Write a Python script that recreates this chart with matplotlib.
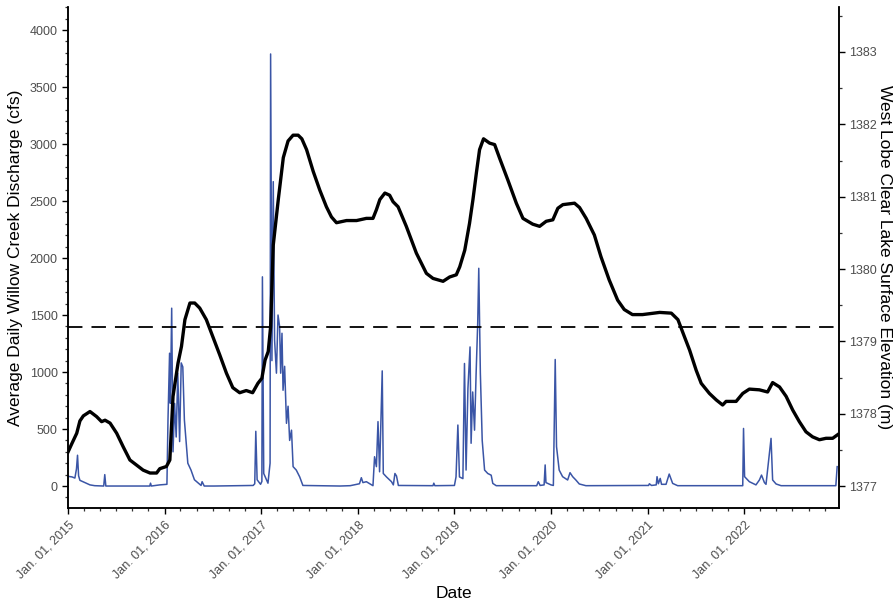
import matplotlib
matplotlib.use("Agg")
import matplotlib.pyplot as plt
import matplotlib.dates as mdates
from matplotlib.ticker import MultipleLocator
import pandas as pd

plt.rcParams['font.family'] = ['Liberation Sans', 'DejaVu Sans']

# lake surface elevation (m)
lake_dates = [
    "2015-01-01", "2015-01-16", "2015-02-03", "2015-02-15", "2015-02-28", "2015-03-25",
    "2015-04-19", "2015-05-08", "2015-05-21", "2015-06-09", "2015-07-04", "2015-07-29",
    "2015-08-23", "2015-09-17", "2015-10-12", "2015-11-07", "2015-12-02", "2015-12-14",
    "2016-01-08", "2016-01-21", "2016-02-02", "2016-02-21", "2016-03-05", "2016-03-18",
    "2016-04-06", "2016-04-24", "2016-05-13", "2016-06-07", "2016-07-03", "2016-07-28",
    "2016-08-22", "2016-09-15", "2016-10-11", "2016-11-05", "2016-11-29", "2016-12-19",
    "2017-01-03", "2017-01-15", "2017-01-27", "2017-02-05", "2017-02-15", "2017-03-06",
    "2017-03-25", "2017-04-12", "2017-05-01", "2017-05-20", "2017-06-03", "2017-06-21",
    "2017-07-16", "2017-08-10", "2017-09-04", "2017-09-23", "2017-10-12", "2017-11-19",
    "2017-12-27", "2018-02-02", "2018-02-27", "2018-03-12", "2018-03-25", "2018-04-13",
    "2018-05-01", "2018-05-14", "2018-06-02", "2018-07-03", "2018-08-10", "2018-09-17",
    "2018-10-12", "2018-11-19", "2018-12-14", "2019-01-08", "2019-01-21", "2019-02-09",
    "2019-02-27", "2019-03-12", "2019-03-25", "2019-04-06", "2019-04-21", "2019-05-14",
    "2019-06-02", "2019-06-21", "2019-07-22", "2019-08-23", "2019-09-17", "2019-10-24",
    "2019-11-19", "2019-12-14", "2020-01-08", "2020-01-27", "2020-02-15", "2020-03-30",
    "2020-04-18", "2020-05-13", "2020-06-13", "2020-07-08", "2020-08-08", "2020-09-09",
    "2020-10-04", "2020-11-04", "2020-12-12", "2021-02-15", "2021-03-31", "2021-04-25",
    "2021-05-20", "2021-06-08", "2021-07-03", "2021-07-22", "2021-08-22", "2021-09-17",
    "2021-10-11", "2021-10-24", "2021-12-01", "2021-12-26", "2022-01-20", "2022-02-27",
    "2022-03-30", "2022-04-18", "2022-05-14", "2022-06-08", "2022-07-03", "2022-07-28",
    "2022-08-22", "2022-09-16", "2022-10-12", "2022-11-06", "2022-12-01", "2022-12-20",
]
lake_elev = [
    1377.47, 1377.59, 1377.73, 1377.90, 1377.97, 1378.03,
    1377.96, 1377.89, 1377.91, 1377.87, 1377.73, 1377.54,
    1377.36, 1377.29, 1377.22, 1377.18, 1377.18, 1377.24,
    1377.27, 1377.36, 1378.24, 1378.70, 1378.93, 1379.30,
    1379.53, 1379.53, 1379.46, 1379.30, 1379.05, 1378.81,
    1378.56, 1378.36, 1378.29, 1378.32, 1378.29, 1378.42,
    1378.49, 1378.74, 1378.86, 1379.20, 1380.33, 1380.96,
    1381.54, 1381.77, 1381.85, 1381.85, 1381.80, 1381.65,
    1381.35, 1381.09, 1380.86, 1380.72, 1380.64, 1380.67,
    1380.67, 1380.70, 1380.70, 1380.82, 1380.96, 1381.05,
    1381.02, 1380.93, 1380.86, 1380.59, 1380.22, 1379.94,
    1379.87, 1379.83, 1379.89, 1379.92, 1380.03, 1380.26,
    1380.63, 1380.96, 1381.33, 1381.65, 1381.80, 1381.74,
    1381.72, 1381.53, 1381.23, 1380.91, 1380.70, 1380.62,
    1380.59, 1380.66, 1380.68, 1380.84, 1380.89, 1380.91,
    1380.85, 1380.70, 1380.47, 1380.17, 1379.85, 1379.57,
    1379.44, 1379.37, 1379.37, 1379.40, 1379.39, 1379.30,
    1379.06, 1378.88, 1378.60, 1378.42, 1378.28, 1378.19,
    1378.12, 1378.17, 1378.17, 1378.28, 1378.34, 1378.33,
    1378.30, 1378.43, 1378.37, 1378.24, 1378.05, 1377.89,
    1377.75, 1377.68, 1377.64, 1377.66, 1377.66, 1377.71,
]

# Willow Creek daily discharge (cfs)
flow_dates = [
    "2015-01-01", "2015-01-16", "2015-01-27", "2015-02-02", "2015-02-06", "2015-02-10",
    "2015-02-15", "2015-03-06", "2015-03-25", "2015-04-12", "2015-05-16", "2015-05-20",
    "2015-05-24", "2015-11-06", "2015-11-09", "2015-11-12", "2015-12-14",
    "2016-01-10", "2016-01-14", "2016-01-20", "2016-01-23", "2016-01-28", "2016-02-02",
    "2016-02-08", "2016-02-14", "2016-02-20", "2016-02-27", "2016-03-04", "2016-03-10",
    "2016-03-16", "2016-03-29", "2016-04-10", "2016-04-23", "2016-05-18", "2016-05-22",
    "2016-05-30", "2016-07-07",
    "2016-12-01", "2016-12-07", "2016-12-11", "2016-12-16", "2016-12-29",
    "2017-01-03", "2017-01-05", "2017-01-10", "2017-01-26", "2017-02-03", "2017-02-05",
    "2017-02-10", "2017-02-15", "2017-02-20", "2017-02-27", "2017-03-05", "2017-03-11",
    "2017-03-15", "2017-03-20", "2017-03-24", "2017-03-30", "2017-04-06", "2017-04-12",
    "2017-04-18", "2017-04-25", "2017-05-01", "2017-05-13", "2017-05-26", "2017-06-07",
    "2017-10-25",
    "2017-12-03", "2018-01-07", "2018-01-14", "2018-01-20", "2018-02-02", "2018-02-27",
    "2018-03-05", "2018-03-12", "2018-03-18", "2018-03-24", "2018-04-03", "2018-04-07",
    "2018-04-19", "2018-05-08", "2018-05-15", "2018-05-21", "2018-05-27", "2018-06-03",
    "2018-10-12", "2018-10-15", "2018-10-19", "2018-12-28",
    "2019-01-01", "2019-01-07", "2019-01-14", "2019-01-20", "2019-02-02", "2019-02-08",
    "2019-02-14", "2019-02-21", "2019-03-01", "2019-03-05", "2019-03-11", "2019-03-18",
    "2019-03-24", "2019-03-30", "2019-04-03", "2019-04-09", "2019-04-16", "2019-04-25",
    "2019-05-07", "2019-05-20", "2019-05-26", "2019-06-08", "2019-11-08",
    "2019-11-14", "2019-11-21", "2019-12-06", "2019-12-10", "2019-12-13",
    "2020-01-01", "2020-01-10", "2020-01-17", "2020-01-22", "2020-02-01", "2020-02-14",
    "2020-03-04", "2020-03-13", "2020-03-23", "2020-04-04", "2020-04-17", "2020-05-12",
    "2021-01-04", "2021-01-07", "2021-01-15", "2021-02-02", "2021-02-05", "2021-02-10",
    "2021-02-17", "2021-02-22", "2021-03-11", "2021-03-23", "2021-04-05", "2021-04-24",
    "2021-12-26", "2021-12-29", "2022-01-02", "2022-01-20", "2022-02-14", "2022-02-27",
    "2022-03-07", "2022-03-18", "2022-03-24", "2022-04-12", "2022-04-18", "2022-05-01",
    "2022-05-20", "2022-12-13", "2022-12-18",
]
flow_cfs = [
    85, 80, 70, 150, 270, 90,
    50, 30, 10, 3, 0, 100,
    0, 0, 25, 0, 10,
    15, 580, 1165, 725, 1560, 300,
    725, 430, 990, 390, 1080, 1045,
    580, 200, 140, 55, 5, 38,
    0, 0,
    5, 20, 480, 55, 15,
    40, 1835, 110, 25, 200, 3790,
    1100, 2670, 1280, 990, 1500, 1400,
    990, 1340, 840, 1050, 550, 700,
    400, 490, 170, 140, 80, 5,
    0,
    3, 20, 73, 30, 38, 3,
    257, 170, 565, 125, 1010, 110,
    80, 38, 10, 110, 88, 5,
    3, 25, 3, 5,
    5, 80, 535, 80, 65, 1075,
    140, 855, 1220, 375, 825, 490,
    990, 1430, 1910, 990, 400, 140,
    110, 95, 23, 3, 3,
    38, 5, 10, 185, 30,
    10, 5, 1110, 345, 140, 82,
    53, 117, 82, 53, 18, 3,
    5, 20, 5, 10, 82, 20,
    67, 15, 15, 105, 23, 3,
    3, 505, 82, 38, 10, 53,
    96, 30, 15, 418, 53, 18,
    3, 3, 170,
]

threshold_elev = 1379.2

lake_dates = pd.to_datetime(lake_dates)
flow_dates = pd.to_datetime(flow_dates)

fig = plt.figure(figsize=(8.96, 6.09), dpi=100)
ax = fig.add_axes([0.0759, 0.1658, 0.8605, 0.8227])
ax2 = ax.twinx()

# discharge on the left axis
ax.plot(flow_dates, flow_cfs, color="#3a55a6", lw=1.1, zorder=2)
ax.set_ylim(-193, 4202)
ax.set_xlim(pd.Timestamp("2015-01-01"), pd.Timestamp("2022-12-25"))

# lake elevation on the right axis
ax2.plot(lake_dates, lake_elev, color="black", lw=2.4, zorder=3)
ax2.axhline(threshold_elev, color="black", lw=1.3, dashes=(8, 5))
ax2.set_ylim(1376.696, 1383.622)

ax.yaxis.set_major_locator(MultipleLocator(500))
ax.yaxis.set_minor_locator(MultipleLocator(100))
ax2.yaxis.set_major_locator(MultipleLocator(1))
ax2.yaxis.set_minor_locator(MultipleLocator(0.5))

ax.xaxis.set_major_locator(mdates.YearLocator())
ax.xaxis.set_minor_locator(mdates.MonthLocator(bymonth=[1, 3, 5, 7, 9, 11]))
ax.xaxis.set_major_formatter(mdates.DateFormatter("%b. %d, %Y"))
for lab in ax.get_xticklabels():
    lab.set_rotation(45)
    lab.set_ha("right")
    lab.set_rotation_mode("anchor")

for a in (ax, ax2):
    a.spines["top"].set_visible(False)
    for s in a.spines.values():
        s.set_linewidth(1.1)
    a.tick_params(which="major", length=4, width=1, color="black",
                  labelsize=9, labelcolor="#4d4d4d")
    a.tick_params(which="minor", length=2.5, width=0.9, color="#333333")

ax.set_xlabel("Date", fontsize=12.5, labelpad=4)
ax.set_ylabel("Average Daily Willow Creek Discharge (cfs)", fontsize=12.5, labelpad=5)
ax2.set_ylabel("West Lobe Clear Lake Surface Elevation (m)", fontsize=12.5,
               rotation=-90, va="center", ha="center")
ax2.yaxis.set_label_coords(1.059, 0.5)

fig.savefig("out.png", dpi=100)
